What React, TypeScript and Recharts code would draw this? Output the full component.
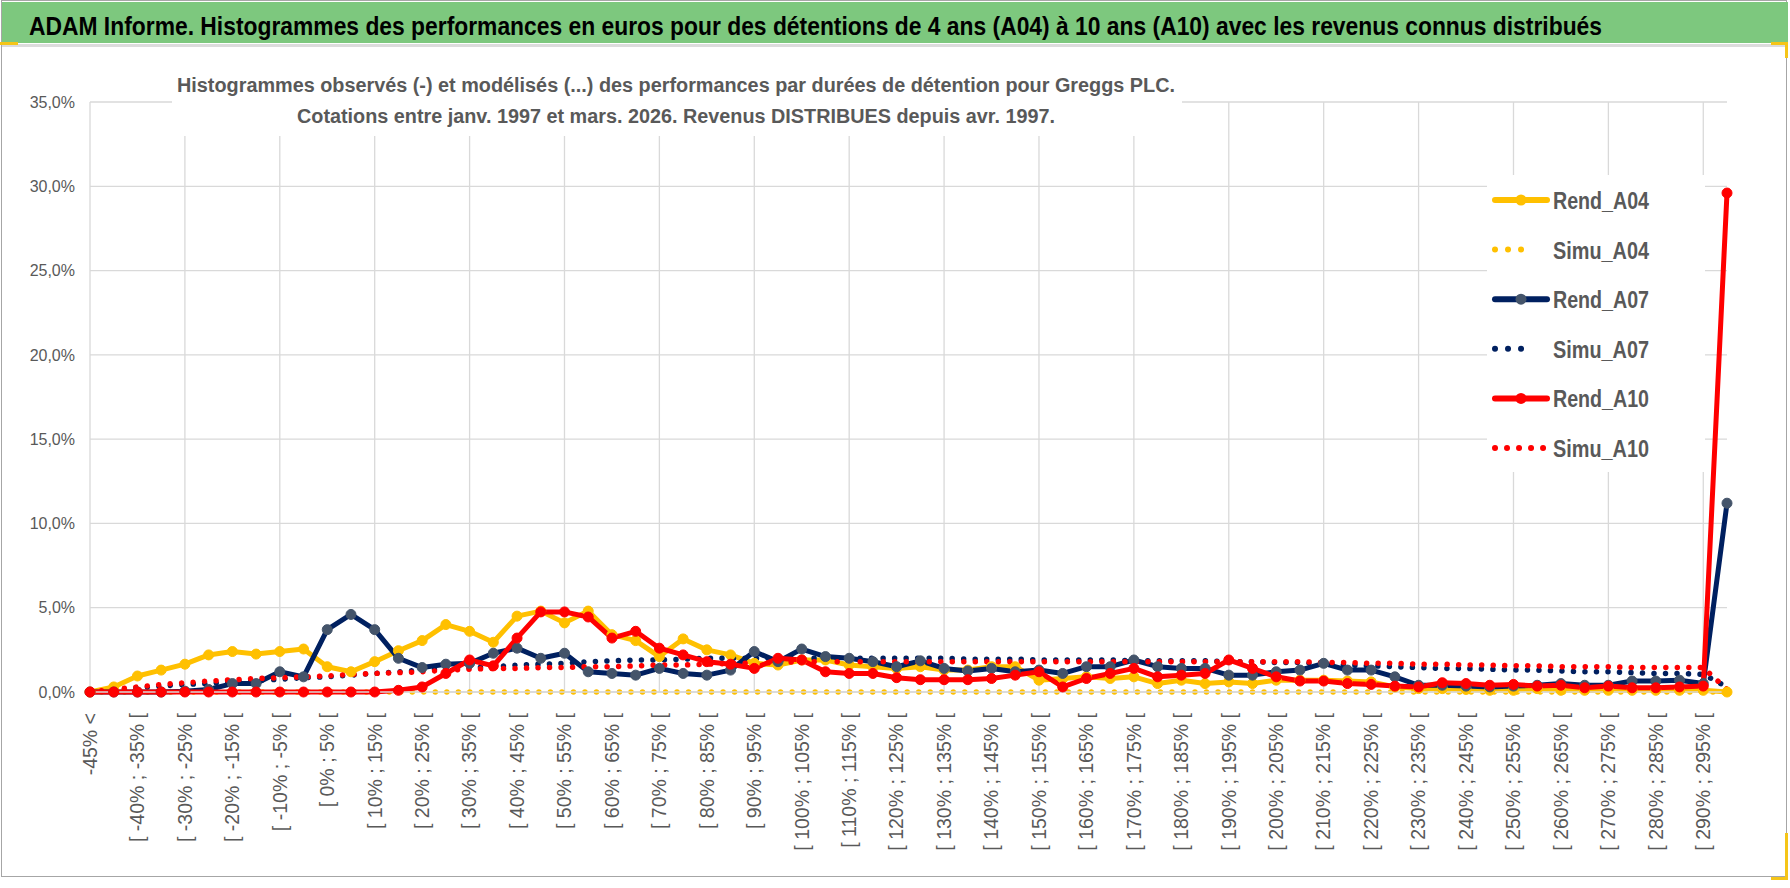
import React from "react";
import {
  LineChart,
  Line,
  XAxis,
  YAxis,
  CartesianGrid,
  Legend,
  ReferenceLine,
} from "recharts";

// Bins of 5 points of performance, from "< -45%" to "> 295%"
const CATEGORIES = [
  "-45% <", "[ -45% ; -40% [", "[ -40% ; -35% [", "[ -35% ; -30% [", "[ -30% ; -25% [",
  "[ -25% ; -20% [", "[ -20% ; -15% [", "[ -15% ; -10% [", "[ -10% ; -5% [", "[ -5% ; 0% [",
  "[ 0% ; 5% [", "[ 5% ; 10% [", "[ 10% ; 15% [", "[ 15% ; 20% [", "[ 20% ; 25% [",
  "[ 25% ; 30% [", "[ 30% ; 35% [", "[ 35% ; 40% [", "[ 40% ; 45% [", "[ 45% ; 50% [",
  "[ 50% ; 55% [", "[ 55% ; 60% [", "[ 60% ; 65% [", "[ 65% ; 70% [", "[ 70% ; 75% [",
  "[ 75% ; 80% [", "[ 80% ; 85% [", "[ 85% ; 90% [", "[ 90% ; 95% [", "[ 95% ; 100% [",
  "[ 100% ; 105% [", "[ 105% ; 110% [", "[ 110% ; 115% [", "[ 115% ; 120% [", "[ 120% ; 125% [",
  "[ 125% ; 130% [", "[ 130% ; 135% [", "[ 135% ; 140% [", "[ 140% ; 145% [", "[ 145% ; 150% [",
  "[ 150% ; 155% [", "[ 155% ; 160% [", "[ 160% ; 165% [", "[ 165% ; 170% [", "[ 170% ; 175% [",
  "[ 175% ; 180% [", "[ 180% ; 185% [", "[ 185% ; 190% [", "[ 190% ; 195% [", "[ 195% ; 200% [",
  "[ 200% ; 205% [", "[ 205% ; 210% [", "[ 210% ; 215% [", "[ 215% ; 220% [", "[ 220% ; 225% [",
  "[ 225% ; 230% [", "[ 230% ; 235% [", "[ 235% ; 240% [", "[ 240% ; 245% [", "[ 245% ; 250% [",
  "[ 250% ; 255% [", "[ 255% ; 260% [", "[ 260% ; 265% [", "[ 265% ; 270% [", "[ 270% ; 275% [",
  "[ 275% ; 280% [", "[ 280% ; 285% [", "[ 285% ; 290% [", "[ 290% ; 295% [", "> 295%",
];

// values in % of observations
const REND_A04 = [
  0, 0.3, 0.95, 1.3, 1.65, 2.2, 2.4, 2.25, 2.4, 2.55,
  1.5, 1.2, 1.8, 2.45, 3.05, 4.0, 3.6, 2.95, 4.5, 4.8,
  4.1, 4.8, 3.4, 3.05, 2.1, 3.15, 2.5, 2.2, 1.7, 1.6,
  1.9, 1.9, 1.6, 1.5, 1.4, 1.5, 1.3, 1.3, 1.5, 1.5,
  0.7, 0.8, 0.9, 0.8, 0.9, 0.5, 0.7, 0.5, 0.6, 0.5,
  0.7, 0.7, 0.7, 0.65, 0.6, 0.3, 0.2, 0.2, 0.15, 0.1,
  0.1, 0.2, 0.1, 0.1, 0.1, 0.1, 0.1, 0.1, 0.1, 0,
];

const SIMU_A04 = [
  0, 0, 0, 0, 0, 0, 0, 0, 0, 0,
  0, 0, 0, 0, 0, 0, 0, 0, 0, 0,
  0, 0, 0, 0, 0, 0, 0, 0, 0, 0,
  0, 0, 0, 0, 0, 0, 0, 0, 0, 0,
  0, 0, 0, 0, 0, 0, 0, 0, 0, 0,
  0, 0, 0, 0, 0, 0, 0, 0, 0, 0,
  0, 0, 0, 0, 0, 0, 0, 0, 0, 0,
];

const REND_A07 = [
  0, 0, 0, 0, 0.05, 0.15, 0.5, 0.5, 1.2, 0.9,
  3.7, 4.6, 3.7, 2.0, 1.45, 1.65, 1.7, 2.3, 2.6, 2.0,
  2.3, 1.2, 1.1, 1.0, 1.4, 1.1, 1.0, 1.3, 2.4, 1.8,
  2.55, 2.1, 2.0, 1.8, 1.5, 1.85, 1.4, 1.25, 1.4, 1.2,
  1.3, 1.1, 1.5, 1.5, 1.9, 1.5, 1.4, 1.4, 1.0, 1.0,
  1.2, 1.3, 1.7, 1.3, 1.3, 0.9, 0.4, 0.4, 0.35, 0.3,
  0.35, 0.4, 0.5, 0.4, 0.4, 0.65, 0.65, 0.7, 0.5, 11.2,
];

const SIMU_A07 = [
  0, 0.1, 0.25, 0.35, 0.45, 0.5, 0.6, 0.7, 0.75, 0.85,
  0.9, 1.0, 1.1, 1.2, 1.3, 1.4, 1.45, 1.5, 1.6, 1.65,
  1.7, 1.8, 1.85, 1.9, 1.9, 1.95, 2.0, 2.0, 2.0, 2.0,
  2.0, 2.0, 2.0, 2.0, 2.0, 2.0, 2.0, 1.95, 1.95, 1.95,
  1.9, 1.9, 1.9, 1.9, 1.85, 1.85, 1.85, 1.85, 1.8, 1.8,
  1.75, 1.75, 1.65, 1.6, 1.55, 1.5, 1.45, 1.4, 1.4, 1.35,
  1.3, 1.3, 1.25, 1.2, 1.2, 1.15, 1.1, 1.1, 1.05, 0.3,
];

const REND_A10 = [
  0, 0, 0, 0, 0, 0, 0, 0, 0, 0,
  0, 0, 0, 0.1, 0.3, 1.1, 1.9, 1.55, 3.2, 4.75,
  4.75, 4.45, 3.2, 3.6, 2.6, 2.2, 1.8, 1.65, 1.4, 2.0,
  1.9, 1.2, 1.1, 1.1, 0.85, 0.73, 0.73, 0.73, 0.8, 1.0,
  1.2, 0.3, 0.8, 1.1, 1.4, 0.9, 1.0, 1.1, 1.9, 1.4,
  0.9, 0.65, 0.65, 0.5, 0.45, 0.35, 0.3, 0.55, 0.5, 0.4,
  0.45, 0.35, 0.4, 0.25, 0.35, 0.25, 0.25, 0.3, 0.35, 29.6,
];

const SIMU_A10 = [
  0, 0.15, 0.3, 0.45, 0.55, 0.65, 0.72, 0.8, 0.85, 0.9,
  0.95, 1.05, 1.1, 1.15, 1.2, 1.3, 1.35, 1.4, 1.4, 1.45,
  1.45, 1.5, 1.5, 1.55, 1.6, 1.6, 1.65, 1.7, 1.7, 1.75,
  1.8, 1.8, 1.8, 1.8, 1.8, 1.8, 1.8, 1.8, 1.8, 1.8,
  1.8, 1.8, 1.8, 1.8, 1.8, 1.8, 1.8, 1.8, 1.8, 1.8,
  1.8, 1.8, 1.75, 1.75, 1.7, 1.7, 1.65, 1.65, 1.6, 1.6,
  1.55, 1.55, 1.5, 1.5, 1.5, 1.45, 1.45, 1.45, 1.45, 0.15,
];

const Y_TICKS = [0, 5, 10, 15, 20, 25, 30, 35];

// vertical gridlines fall on every 4th bin
const GRID_BINS = CATEGORIES.filter((_, i) => i % 4 === 0);

const TITLE =
  "ADAM Informe. Histogrammes des performances en euros pour des détentions de 4 ans (A04) à 10 ans (A10) avec les revenus connus distribués";
const SUBTITLE_1 =
  "Histogrammes observés (-) et modélisés (...) des performances par durées de détention pour Greggs PLC.";
const SUBTITLE_2 =
  "Cotations entre janv. 1997 et mars. 2026. Revenus DISTRIBUES depuis avr. 1997.";

const SERIES = [
  { key: "rendA04", name: "Rend_A04", color: "#FFC000", marker: "#FFC000", dotted: false },
  { key: "simuA04", name: "Simu_A04", color: "#FFC000", marker: "", dotted: true },
  { key: "rendA07", name: "Rend_A07", color: "#002060", marker: "#44546A", dotted: false },
  { key: "simuA07", name: "Simu_A07", color: "#002060", marker: "", dotted: true },
  { key: "rendA10", name: "Rend_A10", color: "#FF0000", marker: "#FF0000", dotted: false },
  { key: "simuA10", name: "Simu_A10", color: "#FF0000", marker: "", dotted: true },
];

const data = CATEGORIES.map((cat, i) => ({
  cat,
  rendA04: REND_A04[i],
  simuA04: SIMU_A04[i],
  rendA07: REND_A07[i],
  simuA07: SIMU_A07[i],
  rendA10: REND_A10[i],
  simuA10: SIMU_A10[i],
}));

const FONT = "'Liberation Sans', Arial, sans-serif";
const GREY_TEXT = "#595959";
const GRID = "#D9D9D9";

const fmtPct = (v: number) => `${v.toFixed(1).replace(".", ",")}%`;

function XTick(props: any) {
  const { x, y, payload } = props;
  return (
    <text
      x={x}
      y={y}
      transform={`rotate(-90, ${x}, ${y})`}
      textAnchor="end"
      dy="0.35em"
      fill={GREY_TEXT}
      fontSize={19.5}
      fontFamily={FONT}
    >
      {payload.value}
    </text>
  );
}

function LegendBox() {
  return (
    <div style={{ background: "#fff", width: 218, height: 297 }}>
      <svg width={218} height={297}>
        {SERIES.map((s, i) => {
          const cy = 25 + i * 49.6;
          return (
            <g key={s.key}>
              {s.dotted ? (
                <line
                  x1={8}
                  x2={s.key === "simuA10" ? 57 : 47}
                  y1={cy}
                  y2={cy}
                  stroke={s.color}
                  strokeWidth={6}
                  strokeLinecap="round"
                  strokeDasharray={s.key === "simuA10" ? "0.01 12" : "0.01 13"}
                />
              ) : (
                <>
                  <line x1={8} x2={60} y1={cy} y2={cy} stroke={s.color} strokeWidth={6} strokeLinecap="round" />
                  <circle cx={34} cy={cy} r={5.5} fill={s.marker} />
                </>
              )}
              <text
                x={66}
                y={cy + 9}
                fontSize={24}
                fontWeight="bold"
                fill={GREY_TEXT}
                fontFamily={FONT}
                textLength={96}
                lengthAdjust="spacingAndGlyphs"
              >
                {s.name}
              </text>
            </g>
          );
        })}
      </svg>
    </div>
  );
}

export default function App() {
  return (
    <div
      style={{
        position: "absolute",
        left: 0,
        top: 0,
        width: 1790,
        height: 888,
        background: "#fff",
        overflow: "hidden",
        fontFamily: FONT,
      }}
    >
      {/* frame + title band */}
      <div style={{ position: "absolute", left: 1, top: 0, width: 1786, height: 877, border: "1.5px solid #A6A6A6", boxSizing: "border-box" }} />
      <div style={{ position: "absolute", left: 2, top: 2, width: 1786, height: 41, background: "#7DC87E" }} />
      <div style={{ position: "absolute", left: 2, top: 44, width: 1784, height: 3, background: "#DCDCDC" }} />
      <div style={{ position: "absolute", left: 0, top: 42, width: 18, height: 3, background: "#F5C518" }} />
      <div style={{ position: "absolute", left: 1771, top: 42, width: 17, height: 3, background: "#F5C518" }} />
      <div style={{ position: "absolute", left: 1785, top: 42, width: 3, height: 16, background: "#F5C518" }} />
      <div style={{ position: "absolute", left: 1785, top: 833, width: 3, height: 47, background: "#F5C518" }} />
      <div style={{ position: "absolute", left: 1771, top: 877, width: 17, height: 3, background: "#F5C518" }} />

      <div style={{ position: "absolute", left: 0, top: 0 }}>
        <LineChart
          width={1790}
          height={888}
          data={data}
          margin={{ top: 102, right: 63, bottom: 10, left: 0 }}
        >
          <CartesianGrid vertical={false} stroke={GRID} strokeWidth={1.3} />
          {GRID_BINS.map((c) => (
            <ReferenceLine key={c} x={c} stroke={GRID} strokeWidth={1.3} />
          ))}
          <XAxis
            dataKey="cat"
            interval={1}
            height={186}
            tickSize={0}
            tickMargin={21}
            tickLine={false}
            axisLine={{ stroke: GRID, strokeWidth: 1.3 }}
            tick={<XTick />}
          />
          <YAxis
            domain={[0, 35]}
            ticks={Y_TICKS}
            width={90}
            tickSize={0}
            tickMargin={15}
            tickLine={false}
            axisLine={false}
            tickFormatter={fmtPct}
            tick={{ fill: GREY_TEXT, fontSize: 16, fontFamily: FONT }}
          />
          <Legend
            layout="vertical"
            align="center"
            verticalAlign="middle"
            wrapperStyle={{ left: 1487, top: 175, width: 218, height: 297 }}
            content={() => <LegendBox />}
          />
          {SERIES.map((s) =>
            s.dotted ? (
              <Line
                key={s.key}
                dataKey={s.key}
                name={s.name}
                type="linear"
                stroke={s.color}
                strokeWidth={5.5}
                strokeLinecap="round"
                strokeDasharray="0.01 11.5"
                dot={false}
                activeDot={false}
                isAnimationActive={false}
              />
            ) : (
              <Line
                key={s.key}
                dataKey={s.key}
                name={s.name}
                type="linear"
                stroke={s.color}
                strokeWidth={5}
                strokeLinejoin="round"
                dot={{ r: 5, fill: s.marker, stroke: s.marker, strokeWidth: 1 }}
                activeDot={false}
                isAnimationActive={false}
              />
            )
          )}
        </LineChart>
      </div>

      {/* titles */}
      <svg width={1790} height={888} style={{ position: "absolute", left: 0, top: 0, pointerEvents: "none" }}>
        <text
          x={29}
          y={35}
          fontSize={25.5}
          fontWeight="bold"
          fill="#000"
          fontFamily={FONT}
          textLength={1573}
          lengthAdjust="spacingAndGlyphs"
        >
          {TITLE}
        </text>
        <rect x={172} y={56} width={1010} height={80} fill="#fff" />
        <text
          x={177}
          y={92}
          fontSize={20}
          fontWeight="bold"
          fill={GREY_TEXT}
          fontFamily={FONT}
          textLength={998}
          lengthAdjust="spacingAndGlyphs"
        >
          {SUBTITLE_1}
        </text>
        <text
          x={297}
          y={123}
          fontSize={20}
          fontWeight="bold"
          fill={GREY_TEXT}
          fontFamily={FONT}
          textLength={758}
          lengthAdjust="spacingAndGlyphs"
        >
          {SUBTITLE_2}
        </text>
      </svg>
    </div>
  );
}
